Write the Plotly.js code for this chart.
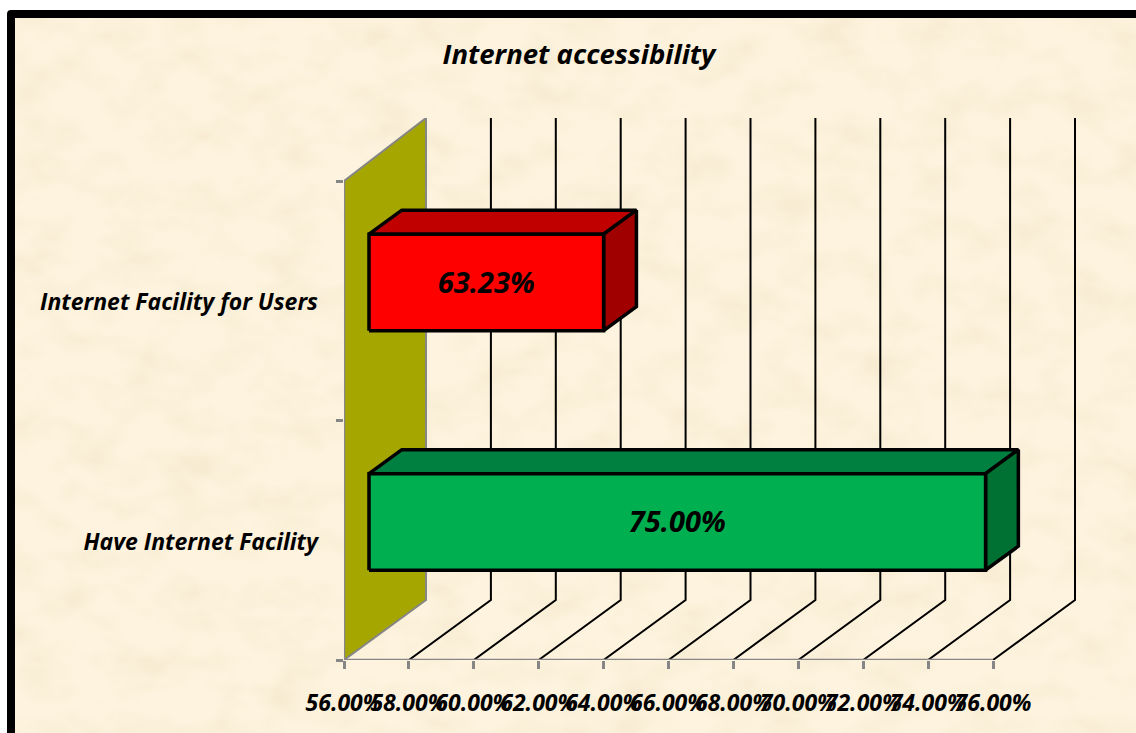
<!DOCTYPE html>
<html>
<head>
<meta charset="utf-8">
<script src="https://cdn.plot.ly/plotly-3.0.1.min.js"></script>
<style>
html,body{margin:0;padding:0;width:1136px;height:733px;overflow:hidden;background:#fff}
#frame{position:absolute;left:7px;top:10px;width:1300px;height:900px;border:8px solid #000;border-radius:4px;box-sizing:border-box;overflow:hidden}
#frame svg{position:absolute;left:0;top:0}
#chart{position:absolute;left:0;top:0;width:1136px;height:733px}
</style>
</head>
<body>
<div id="frame">
<svg width="1300" height="900" xmlns="http://www.w3.org/2000/svg">
<defs>
<filter id="paper" x="0" y="0" width="100%" height="100%">
<feTurbulence type="fractalNoise" baseFrequency="0.02 0.03" numOctaves="3" seed="7"/>
<feColorMatrix type="matrix" values="0 0 0 0 0.90  0 0 0 0 0.81  0 0 0 0 0.60  1.4 0 0 0 -0.56"/>
</filter>
</defs>
<rect width="1300" height="900" fill="#fef3de"/>
<rect width="1300" height="900" filter="url(#paper)"/>
</svg>
</div>
<div id="chart"></div>
<script>
const categories = ["Have Internet Facility", "Internet Facility for Users"];
const values = [75.00, 63.23];
const valueLabels = ["75.00%", "63.23%"];
const tickValues = [56, 58, 60, 62, 64, 66, 68, 70, 72, 74, 76];
const frontColors = ["#00b050", "#ff0000"];
const topColors = ["#008040", "#c00000"];
const sideColors = ["#007033", "#a00000"];

const FONT = '"Open Sans", sans-serif';
const X0 = 56, DX = 2.527, DY = 0.2505;       // floor depth in axis units
const BACK_TOP = 542 / 239.5;                 // top edge of the back plane
const FRONT = 0.305, BAR_DEPTH = 0.40;        // fractions of the floor depth
const HALF = 0.2015;
const GRAY = "#868686";
const traces = [];

function poly(xs, ys, fill, lineColor, w) {
  traces.push({type: "scatter", mode: "lines", x: xs, y: ys, fill: fill ? "toself" : "none",
    fillcolor: fill || undefined, line: {color: lineColor, width: w, simplify: false},
    hoverinfo: "skip", showlegend: false, cliponaxis: false});
}

// back wall
poly([X0, X0, X0 + DX, X0 + DX, X0], [0, 2, BACK_TOP, DY, 0], "#a6a600", GRAY, 2);
// gridlines: front floor -> back floor -> top
tickValues.slice(1).forEach(t => poly([t, t + DX, t + DX], [0, DY, BACK_TOP], null, "#000", 2));
// axis lines
poly([X0, tickValues[tickValues.length - 1]], [0, 0], null, GRAY, 2.5);
poly([X0, X0], [0, 2], null, GRAY, 2.5);

// bars
values.forEach((v, i) => {
  const ox = FRONT * DX, oy = FRONT * DY;
  const dx = BAR_DEPTH * DX, dy = BAR_DEPTH * DY;
  const c = i + 0.5 + oy;
  const x0 = X0 + ox, x1 = v + ox, y0 = c - HALF, y1 = c + HALF;
  poly([x0, x0 + dx, x1 + dx, x1, x0], [y1, y1 + dy, y1 + dy, y1, y1], topColors[i], "#000", 3.5);
  poly([x1, x1 + dx, x1 + dx, x1, x1], [y0, y0 + dy, y1 + dy, y1, y0], sideColors[i], "#000", 3.5);
  poly([x0, x1, x1, x0, x0], [y0, y0, y1, y1, y0], frontColors[i], "#000", 3.5);
  traces.push({type: "scatter", mode: "text", x: [(x0 + x1) / 2], y: [c - 0.012], text: [valueLabels[i]],
    textposition: "middle center", textfont: {family: FONT, size: 29, color: "#000", weight: 700, style: "italic"},
    hoverinfo: "skip", showlegend: false, cliponaxis: false});
});

const tickFont = {family: FONT, size: 23, color: "#000", weight: 700, style: "italic"};
const layout = {
  width: 1136, height: 733,
  paper_bgcolor: "rgba(0,0,0,0)", plot_bgcolor: "rgba(0,0,0,0)",
  margin: {l: 344, r: 60, t: 118, b: 73, pad: 0},
  showlegend: false,
  title: {text: "Internet accessibility", x: 579 / 1136, xanchor: "center", y: 1 - 54 / 733, yanchor: "middle",
    font: {family: FONT, size: 27.5, color: "#000", weight: 700, style: "italic"}},
  xaxis: {range: [X0, X0 + 732 / 32.45], tickmode: "array", tickvals: tickValues,
    ticktext: tickValues.map(t => t.toFixed(2) + "%"), tickangle: 0,
    ticks: "outside", ticklen: 8, tickwidth: 2.5, tickcolor: GRAY, ticklabelstandoff: 14,
    tickfont: tickFont, showgrid: false, zeroline: false, showline: false},
  yaxis: {range: [0, BACK_TOP], tickmode: "array", tickvals: [0.494, 1.494], ticktext: categories,
    ticks: "", ticklabelstandoff: 25, tickfont: tickFont, showgrid: false, zeroline: false, showline: false,
    minor: {tickmode: "array", tickvals: [0, 1, 2], ticks: "outside", ticklen: 7, tickwidth: 2.5, tickcolor: GRAY, showgrid: false}}
};
Plotly.newPlot("chart", traces, layout, {displayModeBar: false, responsive: false});
</script>
</body>
</html>
